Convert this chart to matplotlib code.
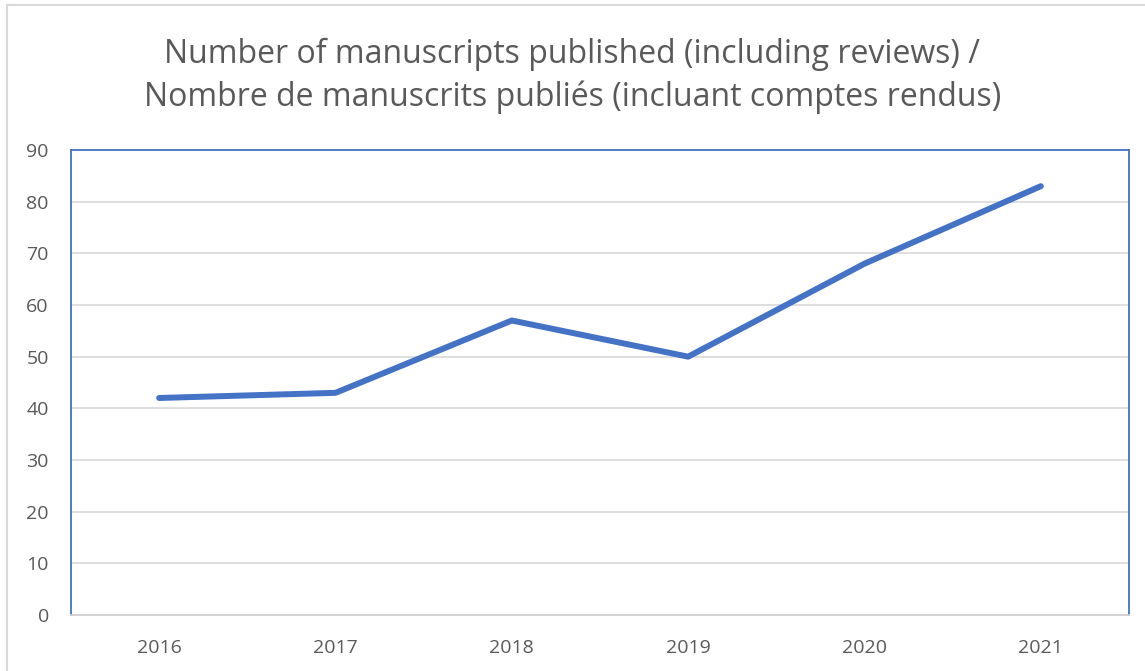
import matplotlib
matplotlib.use("Agg")
import matplotlib.pyplot as plt
from matplotlib.patches import Rectangle

years = ["2016", "2017", "2018", "2019", "2020", "2021"]
manuscripts = [42, 43, 57, 50, 68, 83]

title = ("Number of manuscripts published (including reviews) /\n"
         "Nombre de manuscrits publiés (incluant comptes rendus)")

plt.rcParams["font.family"] = ["Open Sans", "DejaVu Sans"]
text_color = "#595959"
blue = "#4472C4"

fig = plt.figure(figsize=(11.45, 6.71), dpi=100)
ax = fig.add_axes([71 / 1145, 1 - 615 / 671, (1129 - 71) / 1145, (615 - 150) / 671])

x = range(len(years))
ax.plot(x, manuscripts, color=blue, linewidth=4.3, solid_capstyle="round",
        solid_joinstyle="round", zorder=3)

ax.set_xlim(-0.5, len(years) - 0.5)
ax.set_ylim(0, 90)
ax.set_yticks(range(0, 91, 10))
ax.set_xticks(list(x))
ax.set_xticklabels(years)
ax.grid(axis="y", color="#d9d9d9", linewidth=1.2, zorder=0)
ax.tick_params(length=0, labelsize=14, colors=text_color)
ax.tick_params(axis="x", pad=17)
ax.tick_params(axis="y", pad=16)

for side in ["left", "top", "right"]:
    ax.spines[side].set_color(blue)
    ax.spines[side].set_linewidth(1.3)
ax.spines["bottom"].set_color("#d0d0d0")
ax.spines["bottom"].set_linewidth(1.3)

fig.text(0.5, 1 - 76 / 671, title, ha="center", va="center", fontsize=23,
         color=text_color, linespacing=1.4)

# outer chart border
fig.patches.append(Rectangle((7 / 1145, -0.01), 1.2, 1 - 5 / 671 + 0.01,
                             transform=fig.transFigure, fill=False,
                             edgecolor="#d9d9d9", linewidth=1.5))

fig.savefig("out.png", dpi=100)
